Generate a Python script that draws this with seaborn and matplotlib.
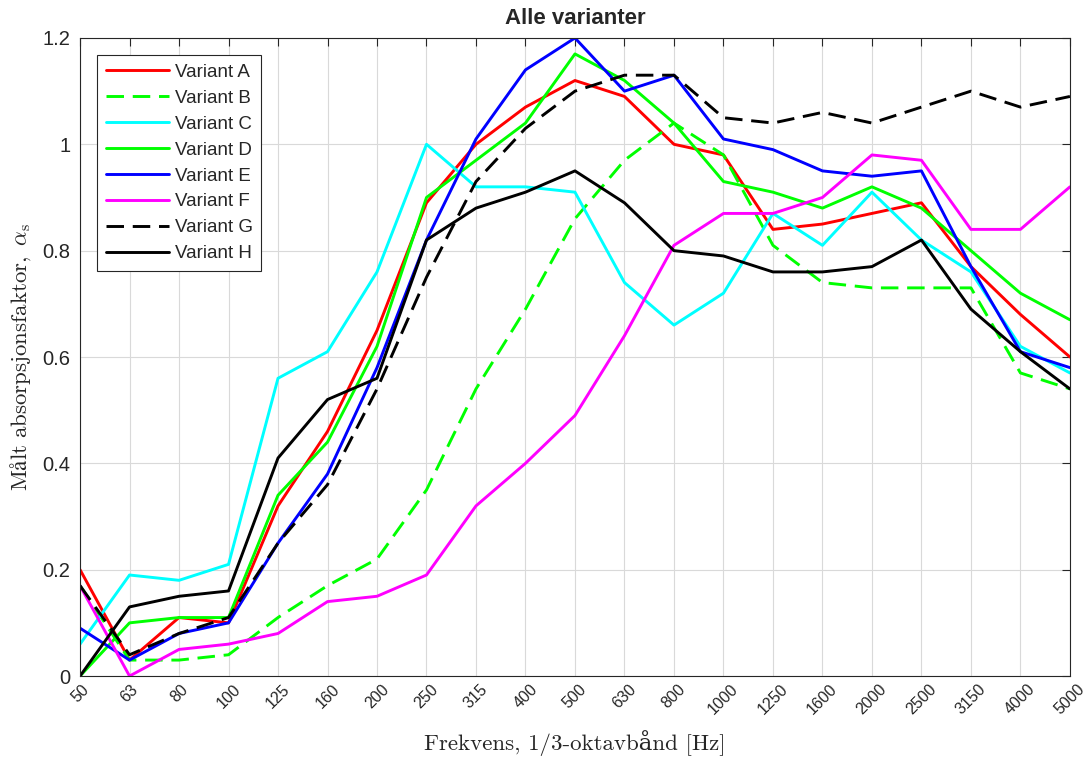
import matplotlib
matplotlib.use("Agg")
import matplotlib.pyplot as plt
import numpy as np
import pandas as pd
import seaborn as sns

# 1/3-octave band centre frequencies [Hz]
bands = ["50", "63", "80", "100", "125", "160", "200", "250", "315", "400", "500",
         "630", "800", "1000", "1250", "1600", "2000", "2500", "3150", "4000", "5000"]

variant_a = [0.20, 0.03, 0.11, 0.10, 0.32, 0.46, 0.65, 0.89, 1.00, 1.07, 1.12,
             1.09, 1.00, 0.98, 0.84, 0.85, 0.87, 0.89, 0.77, 0.68, 0.60]
variant_b = [0.17, 0.03, 0.03, 0.04, 0.11, 0.17, 0.22, 0.35, 0.54, 0.69, 0.86,
             0.97, 1.04, 0.98, 0.81, 0.74, 0.73, 0.73, 0.73, 0.57, 0.54]
variant_c = [0.06, 0.19, 0.18, 0.21, 0.56, 0.61, 0.76, 1.00, 0.92, 0.92, 0.91,
             0.74, 0.66, 0.72, 0.87, 0.81, 0.91, 0.82, 0.76, 0.62, 0.57]
variant_d = [0.00, 0.10, 0.11, 0.11, 0.34, 0.44, 0.62, 0.90, 0.97, 1.04, 1.17,
             1.12, 1.04, 0.93, 0.91, 0.88, 0.92, 0.88, 0.80, 0.72, 0.67]
variant_e = [0.09, 0.03, 0.08, 0.10, 0.25, 0.38, 0.58, 0.82, 1.01, 1.14, 1.20,
             1.10, 1.13, 1.01, 0.99, 0.95, 0.94, 0.95, 0.77, 0.61, 0.58]
variant_f = [0.17, 0.00, 0.05, 0.06, 0.08, 0.14, 0.15, 0.19, 0.32, 0.40, 0.49,
             0.64, 0.81, 0.87, 0.87, 0.90, 0.98, 0.97, 0.84, 0.84, 0.92]
variant_g = [0.17, 0.04, 0.08, 0.11, 0.25, 0.36, 0.54, 0.75, 0.93, 1.03, 1.10,
             1.13, 1.13, 1.05, 1.04, 1.06, 1.04, 1.07, 1.10, 1.07, 1.09]
variant_h = [0.00, 0.13, 0.15, 0.16, 0.41, 0.52, 0.56, 0.82, 0.88, 0.91, 0.95,
             0.89, 0.80, 0.79, 0.76, 0.76, 0.77, 0.82, 0.69, 0.61, 0.54]

series = {
    "Variant A": variant_a,
    "Variant B": variant_b,
    "Variant C": variant_c,
    "Variant D": variant_d,
    "Variant E": variant_e,
    "Variant F": variant_f,
    "Variant G": variant_g,
    "Variant H": variant_h,
}
colors = {
    "Variant A": "#ff0000",
    "Variant B": "#00ff00",
    "Variant C": "#00ffff",
    "Variant D": "#00ff00",
    "Variant E": "#0000ff",
    "Variant F": "#ff00ff",
    "Variant G": "#000000",
    "Variant H": "#000000",
}
dashed = {"Variant B", "Variant G"}

sns.set_style("white")
plt.rcParams["font.family"] = ["Liberation Sans", "DejaVu Sans"]
plt.rcParams["mathtext.fontset"] = "cm"

rows = []
for name, vals in series.items():
    for i, v in enumerate(vals):
        rows.append({"band": i, "alpha": v, "variant": name})
df = pd.DataFrame(rows)

fig = plt.figure(figsize=(10.86, 7.67), dpi=100)
ax = fig.add_axes([0.0737, 0.1186, 0.9115, 0.8319])

for name in series:
    sub = df[df["variant"] == name]
    sns.lineplot(data=sub, x="band", y="alpha", ax=ax, color=colors[name],
                 lw=2.1, label=name, legend=False, sort=False)
    line = ax.lines[-1]
    if name in dashed:
        line.set_dashes((6.0, 3.0))

ax.set_xlim(0, len(bands) - 1)
ax.set_ylim(0, 1.2)
ax.set_xticks(np.arange(len(bands)))
ax.set_xticklabels(bands, rotation=45, fontsize=11.5)
yt = np.arange(0, 1.21, 0.2)
ax.set_yticks(yt)
ax.set_yticklabels(["0", "0.2", "0.4", "0.6", "0.8", "1", "1.2"], fontsize=14.5)

ax.grid(True, color="#d9d9d9", lw=0.8)
ax.set_axisbelow(True)
for s in ax.spines.values():
    s.set_color("#262626")
    s.set_linewidth(0.8)
ax.tick_params(direction="in", length=6, width=0.8, colors="#262626",
               top=True, right=True, labelcolor="#262626")
ax.tick_params(axis="y", pad=7)
ax.tick_params(axis="x", pad=4)

ax.set_title("Alle varianter", fontsize=16, fontweight="bold", pad=10)
ax.set_xlabel("Frekvens, 1/3-oktavbånd [Hz]", fontsize=16.5,
              family=["cmr10", "DejaVu Serif"], labelpad=9)
ax.set_ylabel(r"$\mathrm{Målt\ absorpsjonsfaktor,}\ \alpha_\mathrm{s}$",
              fontsize=16.5, labelpad=7)

handles = ax.lines[:len(series)]
leg = ax.legend(handles=handles, labels=list(series.keys()), loc="upper left",
                bbox_to_anchor=(0.0172, 0.973), borderaxespad=0.0,
                fontsize=13.5, handlelength=3.4, labelspacing=0.47,
                borderpad=0.45, handletextpad=0.3,
                fancybox=False, framealpha=1, edgecolor="#262626")
leg.get_frame().set_linewidth(0.8)

fig.savefig("out.png", dpi=100)
